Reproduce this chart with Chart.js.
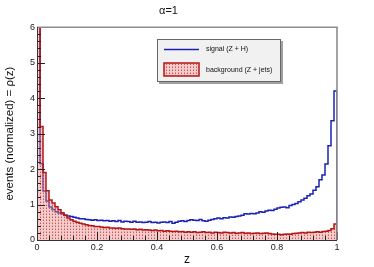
<!DOCTYPE html>
<html lang="en">
<head>
<meta charset="UTF-8">
<script src="https://cdn.jsdelivr.net/npm/chart.js"></script>
<style>
  html, body { margin: 0; padding: 0; background: #fff; }
</style>
</head>
<body>
<canvas id="histo" width="374" height="267"></canvas>
<script>
// 100 bins on z in [0, 1], lower edge of each bin
const binLow = Array.from({ length: 100 }, (_, i) => i / 100);

// signal (Z + H) (first bin runs off the top)
const signalZH = [
  7.0, 2.15, 1.38, 1.1, 0.93, 0.86, 0.8, 0.76, 0.73, 0.7,
  0.68, 0.66, 0.64, 0.62, 0.6, 0.6, 0.58, 0.57, 0.56, 0.57,
  0.55, 0.56, 0.54, 0.55, 0.53, 0.54, 0.52, 0.55, 0.51, 0.53,
  0.52, 0.5, 0.53, 0.5, 0.51, 0.49, 0.5, 0.52, 0.49, 0.5,
  0.48, 0.5, 0.51, 0.49, 0.52, 0.47, 0.5, 0.53, 0.54, 0.52,
  0.55, 0.57, 0.56, 0.55, 0.58, 0.54, 0.53, 0.56, 0.58, 0.6,
  0.62, 0.6, 0.63, 0.62, 0.65, 0.64, 0.66, 0.68, 0.7, 0.74,
  0.73, 0.75, 0.74, 0.76, 0.8, 0.78, 0.82, 0.84, 0.83, 0.87,
  0.9, 0.92, 0.93, 0.91, 0.97, 1.0, 1.03, 1.08, 1.13, 1.18,
  1.25, 1.3, 1.4, 1.5, 1.7, 1.83, 2.14, 2.66, 3.36, 4.2
];

// background (Z + jets)
const bkgZjets = [
  7.0, 3.2, 1.9, 1.39, 1.13, 1.04, 0.94, 0.85, 0.77, 0.7,
  0.62, 0.57, 0.53, 0.5, 0.47, 0.45, 0.43, 0.41, 0.4, 0.38,
  0.38, 0.37, 0.35, 0.36, 0.34, 0.34, 0.33, 0.34, 0.32, 0.31,
  0.31, 0.3, 0.31, 0.29, 0.3, 0.28, 0.29, 0.28, 0.27, 0.28,
  0.26, 0.27, 0.25, 0.26, 0.25, 0.24, 0.25, 0.23, 0.24, 0.22,
  0.23, 0.22, 0.23, 0.21, 0.22, 0.23, 0.21, 0.22, 0.2, 0.22,
  0.21, 0.2, 0.22, 0.21, 0.2, 0.21, 0.19, 0.2, 0.21, 0.19,
  0.2, 0.18, 0.19, 0.2, 0.18, 0.19, 0.2, 0.18, 0.17, 0.16,
  0.16, 0.15, 0.16, 0.17, 0.16, 0.18, 0.19, 0.2, 0.21, 0.2,
  0.22, 0.21, 0.22, 0.23, 0.22, 0.24, 0.25, 0.27, 0.32, 0.45
];

const xTickLabels = { 0: '0', 0.2: '0.2', 0.4: '0.4', 0.6: '0.6', 0.8: '0.8', 1: '1' };
const yTickLabels = ['0', '1', '2', '3', '4', '5', '6'];

const fontFam = "'Liberation Sans', Arial, Helvetica, sans-serif";
const blueLine = '#1a22b4';
const redLine = '#b51515';

// dotted pink fill, like the ROOT pattern
function dotPattern() {
  const c = document.createElement('canvas');
  c.width = 3; c.height = 3;
  const p = c.getContext('2d');
  p.fillStyle = 'rgba(228,140,140,0.45)';
  p.fillRect(0, 0, 3, 3);
  p.fillStyle = 'rgba(195,55,55,0.8)';
  p.fillRect(1, 1, 1, 1);
  p.fillStyle = 'rgba(210,90,90,0.45)';
  p.fillRect(1, 0, 1, 1);
  return p.createPattern(c, 'repeat');
}
const redFill = dotPattern();

// step outline: up from 0 at z=0, one point per bin edge, down to 0 at z=1
function stepPoints(vals) {
  const pts = [{ x: 0, y: 0 }];
  vals.forEach((v, i) => pts.push({ x: binLow[i], y: v }));
  pts.push({ x: 1, y: vals[vals.length - 1] });
  pts.push({ x: 1, y: 0 });
  return pts;
}

// inward ROOT ticks, frame and the legend box
const rootDecor = {
  id: 'rootDecor',
  afterDatasetsDraw(chart) {
    const { ctx, chartArea: a, scales: { x, y } } = chart;
    ctx.save();
    ctx.strokeStyle = '#222';
    ctx.lineWidth = 1;
    ctx.beginPath();
    for (let k = 0; k <= 30; k++) {
      const py = Math.round(y.getPixelForValue(k * 0.2)) + 0.5;
      const len = k % 5 === 0 ? 8 : 4;
      ctx.moveTo(a.left, py); ctx.lineTo(a.left + len, py);
    }
    for (let k = 0; k <= 25; k++) {
      const px = Math.round(x.getPixelForValue(k * 0.04)) + 0.5;
      const len = k % 5 === 0 ? 8 : 4;
      ctx.moveTo(px, a.bottom); ctx.lineTo(px, a.bottom - len);
    }
    ctx.stroke();

    // frame
    ctx.strokeStyle = '#8c8c8c';
    ctx.lineWidth = 1.6;
    ctx.beginPath();
    ctx.moveTo(a.left, a.top); ctx.lineTo(a.right, a.top); ctx.lineTo(a.right, a.bottom);
    ctx.stroke();
    ctx.strokeStyle = '#333';
    ctx.lineWidth = 1;
    ctx.beginPath();
    ctx.moveTo(a.left + 0.5, a.top); ctx.lineTo(a.left + 0.5, a.bottom + 0.5); ctx.lineTo(a.right, a.bottom + 0.5);
    ctx.stroke();

    // legend
    const lx = 157, ly = 39, lw = 124, lh = 43;
    ctx.fillStyle = '#a0a0a0';
    ctx.fillRect(lx + 2, ly + 2, lw, lh);
    ctx.fillStyle = '#f1f1f1';
    ctx.fillRect(lx, ly, lw, lh);
    ctx.strokeStyle = '#666';
    ctx.strokeRect(lx + 0.5, ly + 0.5, lw - 1, lh - 1);

    const ds = chart.data.datasets;
    ctx.strokeStyle = blueLine;
    ctx.lineWidth = 1.5;
    ctx.beginPath();
    ctx.moveTo(164, 49.5); ctx.lineTo(199, 49.5);
    ctx.stroke();

    ctx.fillStyle = '#fff';
    ctx.fillRect(164, 63, 35, 13);
    ctx.fillStyle = redFill;
    ctx.fillRect(164, 63, 35, 13);
    ctx.strokeStyle = redLine;
    ctx.strokeRect(164, 63, 35, 13);

    ctx.fillStyle = '#111';
    ctx.font = '7px ' + fontFam;
    ctx.textBaseline = 'middle';
    ctx.textAlign = 'left';
    ctx.fillText(ds[0].label, 206, 49.5);
    ctx.fillText(ds[1].label, 206, 70);
    ctx.restore();
  }
};

new Chart(document.getElementById('histo'), {
  type: 'line',
  data: {
    datasets: [
      {
        label: 'signal (Z + H)',
        data: stepPoints(signalZH),
        borderColor: blueLine,
        borderWidth: 1.5,
        stepped: 'before',
        pointRadius: 0,
        fill: false,
        order: 1
      },
      {
        label: 'background (Z + jets)',
        data: stepPoints(bkgZjets),
        borderColor: redLine,
        backgroundColor: redFill,
        borderWidth: 1.5,
        stepped: 'before',
        pointRadius: 0,
        fill: 'origin',
        order: 0
      }
    ]
  },
  options: {
    responsive: false,
    animation: false,
    layout: { padding: { left: 0, right: 37, top: 0, bottom: 0 } },
    plugins: {
      legend: { display: false },
      tooltip: { enabled: false },
      title: {
        display: true,
        text: 'α=1',
        color: '#111',
        font: { family: fontFam, size: 11, weight: 'normal', lineHeight: 1.2 },
        padding: { top: 4, bottom: 10 }
      }
    },
    scales: {
      x: {
        type: 'linear',
        min: 0,
        max: 1,
        afterFit: s => { s.height = 27; },
        grid: { display: false, drawTicks: false },
        border: { display: false },
        ticks: {
          stepSize: 0.2,
          padding: 2,
          color: '#222',
          maxRotation: 0,
          font: { family: fontFam, size: 9 },
          callback: v => xTickLabels[Math.round(v * 10) / 10]
        },
        title: {
          display: true,
          text: 'z',
          color: '#111',
          font: { family: fontFam, size: 12, lineHeight: 1 },
          padding: { top: 0, bottom: 1 }
        }
      },
      y: {
        min: 0,
        max: 6,
        afterFit: s => { s.width = 37; },
        grid: { display: false, drawTicks: false },
        border: { display: false },
        ticks: {
          stepSize: 1,
          padding: 2,
          color: '#222',
          font: { family: fontFam, size: 9 },
          callback: v => yTickLabels[v]
        },
        title: {
          display: true,
          text: 'events (normalized) = ρ(z)',
          color: '#111',
          font: { family: fontFam, size: 11.5, lineHeight: 1 },
          padding: { top: 4, bottom: 0 }
        }
      }
    }
  },
  plugins: [rootDecor]
});
</script>
</body>
</html>
